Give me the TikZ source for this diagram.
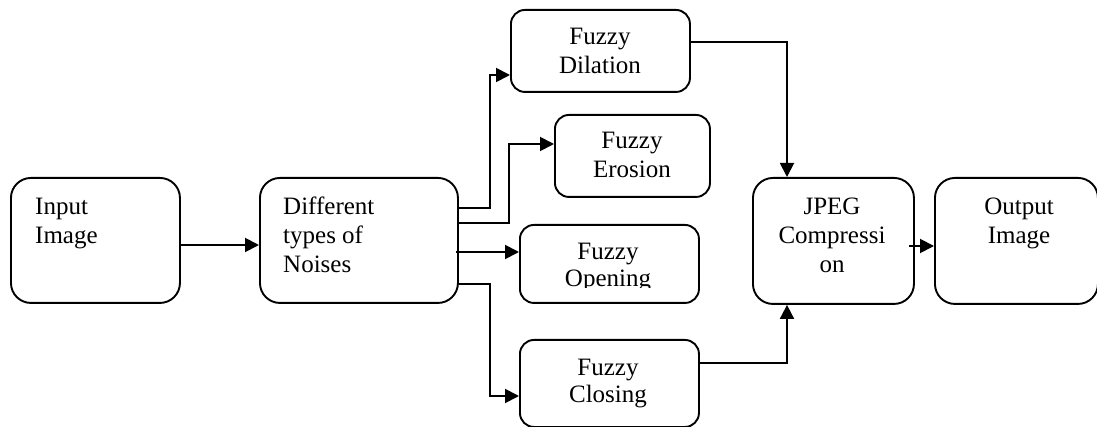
\documentclass[tikz,border=0pt]{standalone}
\usepackage{fontspec}
\setmainfont{Liberation Serif}
\usetikzlibrary{arrows.meta}
\tikzset{
  box/.style={draw, line width=1.9pt, rounded corners=#1, inner sep=0pt, anchor=north west},
  box/.default=14pt,
  lbl/.style={inner sep=0pt, font=\fontsize{25}{29}\selectfont},
  arr/.style={line width=1.9pt, -{Triangle[length=14pt,width=14pt]}},
}
\begin{document}
\begin{tikzpicture}[x=1pt,y=-1pt]
\useasboundingbox (0,0) rectangle (1097,427);
% boxes
\node[box=20pt, minimum width=169pt, minimum height=125pt] (inp) at (10,177) {};
\node[box=20pt, minimum width=198pt, minimum height=125pt] (noi) at (259,177) {};
\node[box, minimum width=179pt, minimum height=82pt] (dil) at (510,9) {};
\node[box, minimum width=155pt, minimum height=82pt] (ero) at (554,114) {};
\node[box, minimum width=179pt, minimum height=78pt] (ope) at (519,224) {};
\node[box, minimum width=179pt, minimum height=87pt] (clo) at (519,339) {};
\node[box=20pt, minimum width=161pt, minimum height=126pt] (jpg) at (752,177) {};
\node[box=20pt, minimum width=163pt, minimum height=126pt] (out) at (934,177) {};
% texts
\node[lbl, anchor=base west] (tinp1) at (35,215) {Input};
\node[lbl, anchor=base west] (tinp2) at (35,244) {Image};
\node[lbl, anchor=base west] (tnoi1) at (283,215) {Different};
\node[lbl, anchor=base west] (tnoi2) at (283,244) {types of};
\node[lbl, anchor=base west] (tnoi3) at (283,273) {Noises};
\node[lbl, anchor=base] (tdil1) at (600,45) {Fuzzy};
\node[lbl, anchor=base] (tdil2) at (600,74) {Dilation};
\node[lbl, anchor=base] (tero1) at (632,149) {Fuzzy};
\node[lbl, anchor=base] (tero2) at (632,178) {Erosion};
\node[lbl, anchor=base] (tope1) at (608,260) {Fuzzy};
\begin{scope}
\clip (519,260) rectangle (698,288);
\node[lbl, anchor=base] (tope2) at (608,287) {Opening};
\end{scope}
\node[lbl, anchor=base] (tclo1) at (608,375) {Fuzzy};
\node[lbl, anchor=base] (tclo2) at (608,402) {Closing};
\node[lbl, anchor=base] (tjpg1) at (832,215) {JPEG};
\node[lbl, anchor=base] (tjpg2) at (832,244) {Compressi};
\node[lbl, anchor=base] (tjpg3) at (832,273) {on};
\node[lbl, anchor=base] (tout1) at (1019,215) {Output};
\node[lbl, anchor=base] (tout2) at (1019,244) {Image};
% connectors
\draw[arr] (inp.east |- 0,245) -- (noi.west |- 0,245);
\draw[arr] (noi.east |- 0,208) -- (490,208) -- (490,75) -- (dil.west |- 0,75);
\draw[arr] (noi.east |- 0,223) -- (509,223) -- (509,144) -- (ero.west |- 0,144);
\draw[arr] (456,252) -- (ope.west |- 0,252);
\draw[arr] (noi.east |- 0,284) -- (490,284) -- (490,396) -- (clo.west |- 0,396);
\draw[arr] (dil.east |- 0,42) -- (787,42) -- (jpg.north -| 787,0);
\draw[arr] (clo.east |- 0,363) -- (787,363) -- (jpg.south -| 787,0);
\draw[arr] (909,246) -- (out.west |- 0,246);
\end{tikzpicture}
\end{document}
